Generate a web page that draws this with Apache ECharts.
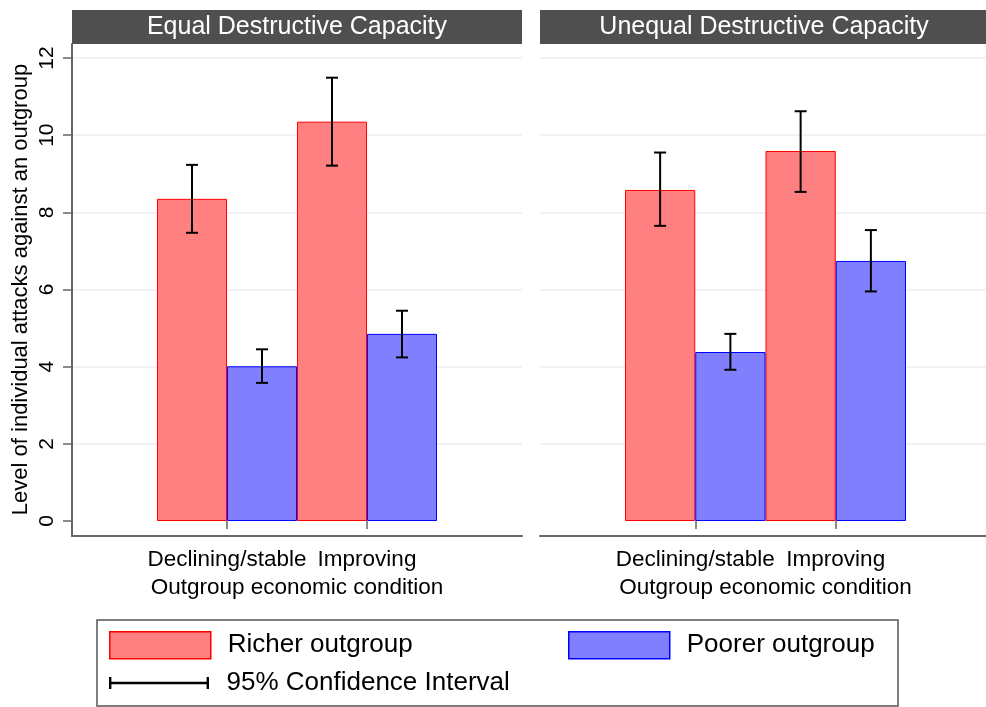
<!DOCTYPE html>
<html><head><meta charset="utf-8">
<script src="https://cdn.jsdelivr.net/npm/echarts@6/dist/echarts.min.js"></script>
<style>html,body{margin:0;padding:0;background:#fff}#c{width:986px;height:707px}</style>
</head><body><div id="c"></div>
<script>
const categories = ['Declining/stable', 'Improving'];
const panelTitles = ['Equal Destructive Capacity', 'Unequal Destructive Capacity'];
const xAxisTitle = 'Outgroup economic condition';
const yAxisTitle = 'Level of individual attacks against an outgroup';
const seriesNames = ['Richer outgroup', 'Poorer outgroup', '95% Confidence Interval'];
const yMin = 0, yMax = 12, yStep = 2;

const equalRicher = [8.35, 10.35];
const equalRicherLow = [7.47, 9.21];
const equalRicherHigh = [9.23, 11.49];
const equalPoorer = [4.01, 4.85];
const equalPoorerLow = [3.58, 4.24];
const equalPoorerHigh = [4.45, 5.45];

const unequalRicher = [8.58, 9.59];
const unequalRicherLow = [7.65, 8.53];
const unequalRicherHigh = [9.55, 10.62];
const unequalPoorer = [4.38, 6.74];
const unequalPoorerLow = [3.92, 5.95];
const unequalPoorerHigh = [4.85, 7.54];

const FONT = '"Liberation Sans", Arial, Helvetica, sans-serif';
const RED = '#ff8080', RED_B = '#ff0000', BLUE = '#8080ff', BLUE_B = '#0000ff';
const AX = '#666666', GRIDC = '#e9f0f2', HEAD = '#4f4f4f';

const panels = [
  {frame:{left:72, right:464}, bars:{left:157, right:549}, yAxisShown:true,
   richer:equalRicher, rLo:equalRicherLow, rHi:equalRicherHigh,
   poorer:equalPoorer, pLo:equalPoorerLow, pHi:equalPoorerHigh},
  {frame:{left:540, right:-2}, bars:{left:625, right:80}, yAxisShown:false,
   richer:unequalRicher, rLo:unequalRicherLow, rHi:unequalRicherHigh,
   poorer:unequalPoorer, pLo:unequalPoorerLow, pHi:unequalPoorerHigh}
];

const grid = [], xAxis = [], yAxis = [], series = [];
const TOP = 58, BOTTOM = 186;

function errSeries(name, axisIdx, lows, highs, side) {
  return {
    type: 'custom', name: name, xAxisIndex: axisIdx, yAxisIndex: axisIdx, z: 10,
    itemStyle: {color: '#000'},
    data: lows.map((l, i) => [i, l, highs[i]]),
    renderItem: function (params, api) {
      const bw = api.size([1, 0])[0];
      const c = api.value(0);
      const lo = api.coord([c, api.value(1)]);
      const hi = api.coord([c, api.value(2)]);
      const x = lo[0] + side * bw / 4;
      const cap = 6;
      const st = {stroke: '#000', lineWidth: 2};
      return {type: 'group', children: [
        {type: 'line', shape: {x1: x, y1: lo[1], x2: x, y2: hi[1]}, style: st},
        {type: 'line', shape: {x1: x - cap, y1: hi[1], x2: x + cap, y2: hi[1]}, style: st},
        {type: 'line', shape: {x1: x - cap, y1: lo[1], x2: x + cap, y2: lo[1]}, style: st}
      ]};
    }
  };
}

panels.forEach((p, k) => {
  const b = k * 3;
  grid.push({left: p.frame.left, right: p.frame.right, top: TOP, bottom: BOTTOM});
  grid.push({left: p.bars.left, right: p.bars.right, top: TOP, bottom: BOTTOM});
  grid.push({left: p.frame.left, right: p.frame.right, top: 44, bottom: 171});

  xAxis.push({gridIndex: b, type: 'value', show: false, min: 0, max: 1});
  xAxis.push({gridIndex: b + 1, type: 'category', data: categories, offset: 15,
    axisLine: {show: false},
    axisTick: {show: true, alignWithLabel: true, length: 8, lineStyle: {color: AX, width: 1.5}},
    axisLabel: {margin: 12, fontSize: 22.5, fontFamily: FONT, color: '#000', interval: 0},
    name: xAxisTitle, nameLocation: 'middle', nameGap: 38,
    nameTextStyle: {fontSize: 22.5, fontFamily: FONT, color: '#000'}});
  xAxis.push({gridIndex: b + 2, type: 'value', min: 0, max: 1,
    axisLine: {show: true, onZero: false, lineStyle: {color: AX, width: 2}},
    axisTick: {show: false}, axisLabel: {show: false}, splitLine: {show: false}});

  yAxis.push({gridIndex: b, type: 'value', min: yMin, max: yMax, interval: yStep,
    axisLine: {show: false},
    axisTick: {show: p.yAxisShown, length: 9, lineStyle: {color: AX, width: 1.5}},
    axisLabel: {show: p.yAxisShown, rotate: 90, margin: 14, fontSize: 21, fontFamily: FONT, color: '#000'},
    splitLine: {show: true, showMinLine: false, lineStyle: {color: GRIDC, width: 1.5}},
    name: p.yAxisShown ? yAxisTitle : '', nameLocation: 'middle', nameGap: 40, nameRotate: 90,
    nameTextStyle: {fontSize: 22, fontFamily: FONT, color: '#000'}});
  yAxis.push({gridIndex: b + 1, type: 'value', min: yMin, max: yMax, interval: yStep, show: false});
  yAxis.push({gridIndex: b + 2, type: 'value', min: 0, max: 1,
    axisLine: {show: p.yAxisShown, onZero: false, lineStyle: {color: AX, width: 2}},
    axisTick: {show: false}, axisLabel: {show: false}, splitLine: {show: false}});

  series.push({type: 'bar', name: seriesNames[0], xAxisIndex: b + 1, yAxisIndex: b + 1,
    data: p.richer, barGap: '0%', barCategoryGap: '0%',
    itemStyle: {color: RED, borderColor: RED_B, borderWidth: 1}});
  series.push({type: 'bar', name: seriesNames[1], xAxisIndex: b + 1, yAxisIndex: b + 1,
    data: p.poorer, barGap: '0%', barCategoryGap: '0%',
    itemStyle: {color: BLUE, borderColor: BLUE_B, borderWidth: 1}});
  series.push(errSeries(seriesNames[2], b + 1, p.rLo, p.rHi, -1));
  series.push(errSeries(seriesNames[2], b + 1, p.pLo, p.pHi, 1));
});

const legText = {fontSize: 26, fontFamily: FONT, color: '#000', padding: [4, 0, 0, 12]};
const legend = [
  {left: 109, top: 631, padding: 0, itemWidth: 101, itemHeight: 27, selectedMode: false, textStyle: legText,
   data: [{name: seriesNames[0], icon: 'rect', itemStyle: {color: RED, borderColor: RED_B, borderWidth: 1.5}}]},
  {left: 568, top: 631, padding: 0, itemWidth: 101, itemHeight: 27, selectedMode: false, textStyle: legText,
   data: [{name: seriesNames[1], icon: 'rect', itemStyle: {color: BLUE, borderColor: BLUE_B, borderWidth: 1.5}}]},
  {left: 109, top: 670, padding: 0, itemWidth: 101, itemHeight: 12, selectedMode: false, textStyle: legText,
   data: [{name: seriesNames[2], icon: 'path://M0,4.8 H100 V7.2 H0 Z M0,0 H2.4 V12 H0 Z M97.6,0 H100 V12 H97.6 Z',
           itemStyle: {color: '#000'}}]}
];

const graphic = [
  {type: 'rect', shape: {x: 72, y: 10, width: 450, height: 34}, style: {fill: HEAD}},
  {type: 'text', x: 297, y: 27, style: {text: panelTitles[0], fill: '#fff', font: '25px ' + FONT, textAlign: 'center', textVerticalAlign: 'middle'}},
  {type: 'rect', shape: {x: 540, y: 10, width: 450, height: 34}, style: {fill: HEAD}},
  {type: 'text', x: 764, y: 27, style: {text: panelTitles[1], fill: '#fff', font: '25px ' + FONT, textAlign: 'center', textVerticalAlign: 'middle'}},
  {type: 'rect', shape: {x: 97, y: 620, width: 801, height: 86}, style: {fill: 'none', stroke: '#555', lineWidth: 1.5}}
];

const chart = echarts.init(document.getElementById('c'), null, {renderer: 'canvas'});
chart.setOption({animation: false, backgroundColor: '#fff', grid, xAxis, yAxis, series, legend, graphic});
</script></body></html>
